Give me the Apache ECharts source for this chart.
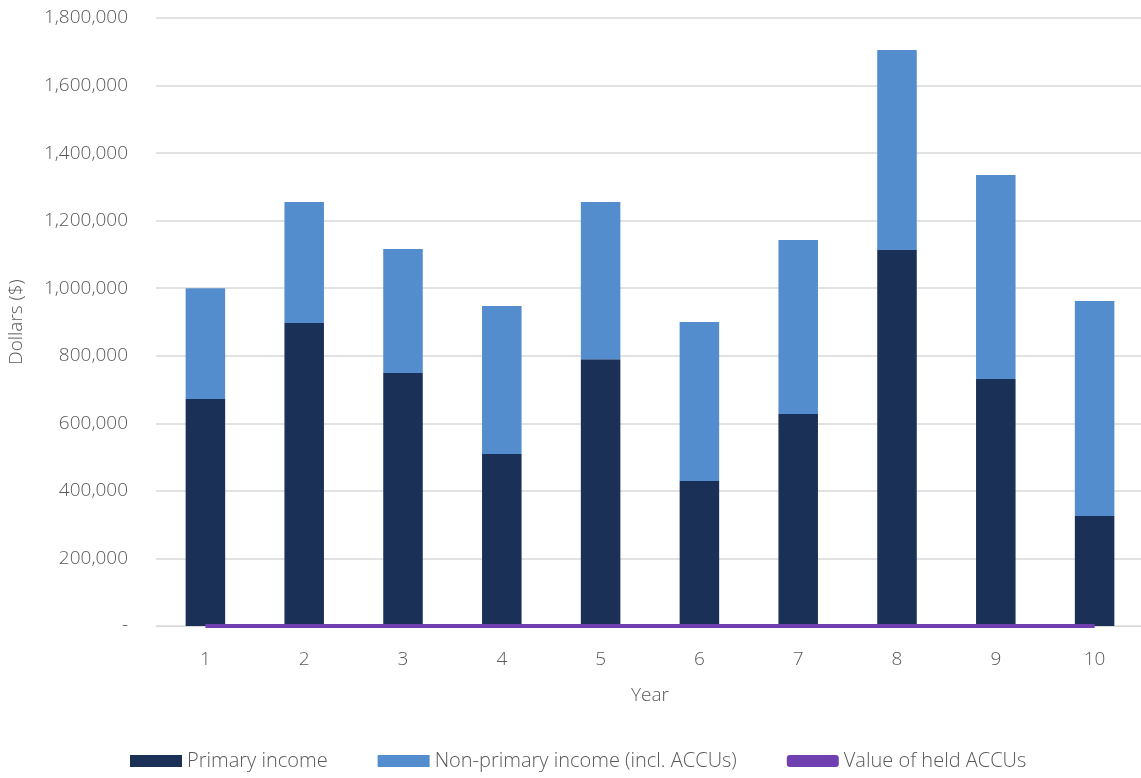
<!DOCTYPE html>
<html><head><meta charset="utf-8">
<script src="https://cdn.jsdelivr.net/npm/echarts@6/dist/echarts.min.js"></script>
<style>html,body{margin:0;padding:0;background:#fff}#c{width:1141px;height:778px}</style>
</head><body><div id="c"></div>
<script>
const years = ['1','2','3','4','5','6','7','8','9','10'];
const primaryIncome = [672000, 897000, 749000, 509000, 790000, 429000, 628000, 1113000, 731000, 326000];
const nonPrimaryIncome = [328000, 358000, 367000, 438000, 465000, 471000, 515000, 592000, 604000, 636000];
const heldACCUs = [0, 0, 0, 0, 0, 0, 0, 0, 0, 0];
const seriesNames = ['Primary income', 'Non-primary income (incl. ACCUs)', 'Value of held ACCUs'];

const font = 'Open Sans';
const chart = echarts.init(document.getElementById('c'));
chart.setOption({
  animation: false,
  textStyle: {fontFamily: font},
  grid: {left: 156, right: -3, top: 18, bottom: 152, outerBoundsMode: 'none', containLabel: false},
  legend: {
    bottom: 2, left: 125,
    itemWidth: 52, itemHeight: 12, itemGap: 50,
    textStyle: {color: '#595959', fontSize: 20, fontFamily: font, fontWeight: 300},
    data: [
      {name: seriesNames[0], icon: 'rect'},
      {name: seriesNames[1], icon: 'rect'},
      {name: seriesNames[2], icon: 'roundRect'}
    ]
  },
  xAxis: {
    type: 'category', data: years,
    name: 'Year', nameLocation: 'middle', nameGap: 60,
    nameTextStyle: {color: '#595959', fontSize: 19, fontWeight: 300},
    axisLine: {lineStyle: {color: '#d9d9d9'}},
    axisTick: {show: false},
    axisLabel: {color: '#595959', fontSize: 19, margin: 24, fontWeight: 300}
  },
  yAxis: {
    type: 'value', min: 0, max: 1800000, interval: 200000,
    name: 'Dollars ($)', nameLocation: 'middle', nameGap: 130, nameRotate: 90,
    nameTextStyle: {color: '#595959', fontSize: 19, fontWeight: 300},
    axisLine: {show: false}, axisTick: {show: false},
    axisLabel: {color: '#595959', fontSize: 19, margin: 28, fontWeight: 300,
      formatter: v => v === 0 ? '-' : v.toLocaleString('en-US')},
    splitLine: {lineStyle: {color: '#d9d9d9', width: 1.5}}
  },
  series: [
    {name: seriesNames[0], type: 'bar', stack: 'a', data: primaryIncome, barWidth: '40%',
      itemStyle: {color: '#1a3057'}},
    {name: seriesNames[1], type: 'bar', stack: 'a', data: nonPrimaryIncome, barWidth: '40%',
      itemStyle: {color: '#538dcd'}},
    {name: seriesNames[2], type: 'line', data: heldACCUs, symbol: 'none', z: 5,
      lineStyle: {color: '#7040b0', width: 4}, itemStyle: {color: '#7040b0'}}
  ]
});
</script></body></html>
